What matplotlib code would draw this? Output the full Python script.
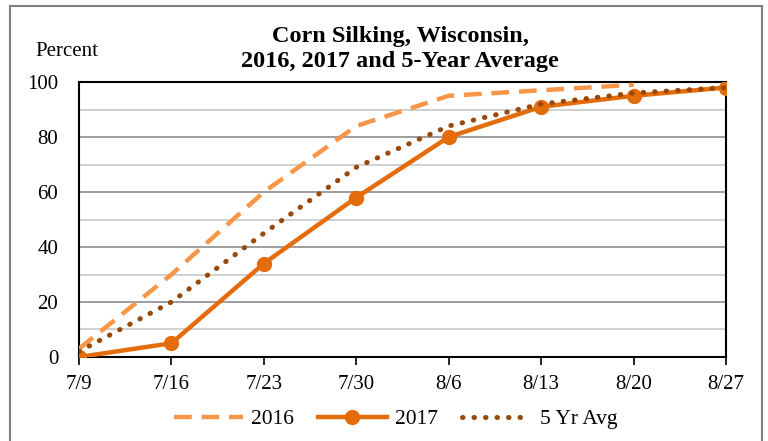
import matplotlib.pyplot as plt
from matplotlib.patches import Rectangle

# weeks and percent silked
weeks = ["7/9", "7/16", "7/23", "7/30", "8/6", "8/13", "8/20", "8/27"]
y2016 = [3, 30, 60, 84, 95, 97, 99]
y2017 = [0, 5, 34, 58, 80, 91, 95, 98]
avg5 = [2, 20, 45, 69, 84, 92, 96, 98]

plt.rcParams['font.family'] = ['Liberation Serif', 'DejaVu Serif']

fig = plt.figure(figsize=(7.68, 4.41), dpi=100)
ax = fig.add_axes([0.1029, 0.1905, 0.8424, 0.6235])

# outer frame of the chart
fig.patches.append(Rectangle((10 / 768, -0.05), 752 / 768, 1.05 - 6 / 441,
                             transform=fig.transFigure, fill=False,
                             edgecolor='#7f7f7f', linewidth=1.5, clip_on=False))

x = list(range(len(weeks)))
ax.plot(x[:len(y2016)], y2016, color='#F79646', linewidth=3.2,
        dashes=(4, 2.2), label='2016', zorder=3)
ax.plot(x, y2017, color='#E46C0A', linewidth=3.2, marker='o', markersize=10,
        label='2017', zorder=4)
ax.plot(x, avg5, color='#984807', linewidth=3.6, linestyle=(0, (0.1, 2.2)),
        dash_capstyle='round', label='5 Yr Avg', zorder=5)

ax.set_xlim(0, len(weeks) - 1)
ax.set_ylim(0, 100)
ax.set_xticks(x)
ax.set_xticklabels(weeks)
ax.set_yticks(range(0, 101, 20))
ax.set_yticks(range(10, 100, 20), minor=True)
ax.tick_params(axis='x', direction='out', length=6, width=1.2, labelsize=15, pad=7)
ax.tick_params(axis='y', which='both', length=0, labelsize=15, pad=15)

ax.grid(axis='y', which='major', color='#8c8c8c', linewidth=1.2)
ax.grid(axis='y', which='minor', color='#c8c8c8', linewidth=1.2)
ax.set_axisbelow(True)
for s in ax.spines.values():
    s.set_color('black')
    s.set_linewidth(1.5)

fig.text(35 / 768, 1 - 51 / 441, "Percent", fontsize=15, va='center', ha='left')
fig.text(400 / 768, 1 - 49 / 441, "Corn Silking, Wisconsin,\n2016, 2017 and 5-Year Average",
         fontsize=17.5, fontweight='bold', ha='center', va='center', linespacing=1.2)

fig.legend(loc='center', bbox_to_anchor=(0.515, 1 - 419 / 441), ncol=3,
           frameon=False, fontsize=15.5, handlelength=3.2, columnspacing=1.1,
           handletextpad=0.4)

fig.savefig("out.png", dpi=100)
